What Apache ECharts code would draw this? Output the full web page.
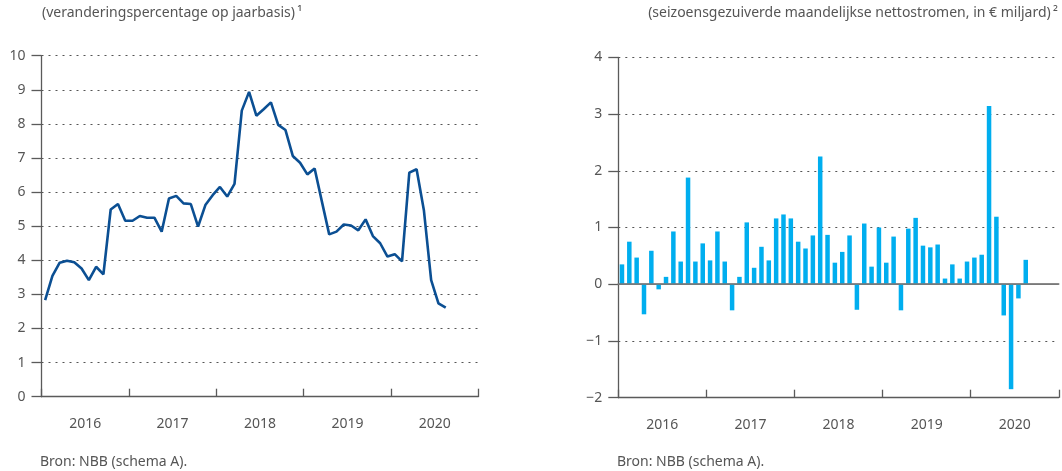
<!DOCTYPE html>
<html><head><meta charset="utf-8">
<script src="https://cdn.jsdelivr.net/npm/echarts@6/dist/echarts.min.js"></script>
<style>html,body{margin:0;padding:0;background:#fff}#c{width:1062px;height:471px}</style>
</head><body><div id="c"></div>
<script>
const years = ['2016', '2017', '2018', '2019', '2020'];
const months = [
  '2016-01','2016-02','2016-03','2016-04','2016-05','2016-06','2016-07','2016-08','2016-09','2016-10','2016-11','2016-12',
  '2017-01','2017-02','2017-03','2017-04','2017-05','2017-06','2017-07','2017-08','2017-09','2017-10','2017-11','2017-12',
  '2018-01','2018-02','2018-03','2018-04','2018-05','2018-06','2018-07','2018-08','2018-09','2018-10','2018-11','2018-12',
  '2019-01','2019-02','2019-03','2019-04','2019-05','2019-06','2019-07','2019-08','2019-09','2019-10','2019-11','2019-12',
  '2020-01','2020-02','2020-03','2020-04','2020-05','2020-06','2020-07','2020-08','2020-09','2020-10','2020-11','2020-12'
];
// left panel: year-on-year change (%)
const growthRate = [
  2.83, 3.54, 3.93, 3.99, 3.94, 3.76, 3.42, 3.81, 3.59, 5.49, 5.65, 5.16,
  5.16, 5.30, 5.25, 5.25, 4.84, 5.81, 5.89, 5.67, 5.65, 4.99, 5.62, 5.91,
  6.15, 5.87, 6.24, 8.39, 8.94, 8.24, 8.43, 8.63, 7.97, 7.82, 7.06, 6.86,
  6.52, 6.69, 5.72, 4.76, 4.84, 5.05, 5.02, 4.88, 5.20, 4.71, 4.50, 4.11,
  4.18, 3.97, 6.57, 6.67, 5.47, 3.42, 2.74, 2.61
];
// right panel: seasonally adjusted monthly net flows (EUR bn)
const netFlows = [
  0.35, 0.75, 0.47, -0.53, 0.59, -0.09, 0.13, 0.93, 0.40, 1.88, 0.40, 0.72,
  0.42, 0.93, 0.40, -0.46, 0.13, 1.09, 0.29, 0.66, 0.42, 1.16, 1.23, 1.16,
  0.75, 0.63, 0.86, 2.25, 0.87, 0.38, 0.57, 0.86, -0.45, 1.07, 0.31, 1.00,
  0.38, 0.84, -0.46, 0.98, 1.17, 0.68, 0.65, 0.70, 0.10, 0.35, 0.10, 0.40,
  0.47, 0.52, 3.14, 1.19, -0.55, -1.85, -0.25, 0.43
];
const leftSubtitle = '(veranderingspercentage op jaarbasis)\u2009¹';
const rightSubtitle = '(seizoensgezuiverde maandelijkse nettostromen, in € miljard)\u2009²';
const sourceText = 'Bron: NBB (schema A).';

const FONT = '"Noto Sans", "Open Sans", sans-serif';
const TXT = '#555';
const AX = '#5a5a5a';
const gridDots = { color: '#555', width: 1, type: [2, 5] };

function yearAxis(gridIndex) {
  return {
    type: 'category', gridIndex, data: years, position: 'bottom', boundaryGap: true,
    axisLine: { show: true, onZero: false, lineStyle: { color: AX, width: 1.3 } },
    axisTick: { show: true, inside: true, length: 8, interval: 0, lineStyle: { color: AX, width: 1.3 } },
    axisLabel: { show: true, interval: 0, margin: 20, color: TXT, fontSize: 14, fontFamily: FONT },
    splitLine: { show: false }
  };
}
function monthAxis(gridIndex, showZero) {
  return {
    type: 'category', gridIndex, data: months, position: 'bottom', boundaryGap: true,
    axisLine: { show: showZero, onZero: true, lineStyle: { color: '#7a7a7a', width: 1.6 } },
    axisTick: { show: false }, axisLabel: { show: false }, splitLine: { show: false }, z: 4
  };
}
function valAxis(gridIndex, min, max) {
  return {
    type: 'value', gridIndex, min, max, interval: 1,
    axisLine: { show: true, lineStyle: { color: AX, width: 1.3 } },
    axisTick: { show: true, length: 10, lineStyle: { color: AX, width: 1.3 } },
    axisLabel: { margin: 16, color: TXT, fontSize: 14, fontFamily: FONT,
      formatter: v => v < 0 ? '\u2212' + Math.abs(v) : String(v) },
    splitLine: { show: true, lineStyle: gridDots }
  };
}

const chart = echarts.init(document.getElementById('c'), null, { renderer: 'canvas' });
chart.setOption({
  animation: false,
  backgroundColor: '#fff',
  grid: [
    { left: 41.5, top: 55.7, width: 437, height: 341 },
    { left: 618.3, top: 57.3, width: 440.5, height: 340.4 }
  ],
  xAxis: [ yearAxis(0), monthAxis(0, false), yearAxis(1), monthAxis(1, true) ],
  yAxis: [ valAxis(0, 0, 10), valAxis(1, -2, 4) ],
  series: [
    { type: 'line', xAxisIndex: 1, yAxisIndex: 0, data: growthRate, symbol: 'none',
      lineStyle: { color: '#0b4f93', width: 2.6 }, z: 5 },
    { type: 'bar', xAxisIndex: 3, yAxisIndex: 1, data: netFlows, barWidth: 4.5,
      itemStyle: { color: '#00aeef' }, z: 3 }
  ],
  graphic: [
    { type: 'text', left: 42, top: 6, style: { text: leftSubtitle, fill: TXT, font: '14px ' + FONT } },
    { type: 'text', right: 4, top: 6, style: { text: rightSubtitle, fill: TXT, font: '14px ' + FONT } },
    { type: 'text', left: 40, top: 455, style: { text: sourceText, fill: TXT, font: '14px ' + FONT } },
    { type: 'text', left: 617, top: 455, style: { text: sourceText, fill: TXT, font: '14px ' + FONT } }
  ]
});
// solid zero line across the full right panel, positioned through the value axis scale
const y0 = chart.convertToPixel({ yAxisIndex: 1 }, 0);
const rect = chart.getModel().getComponent('grid', 1).coordinateSystem.getRect();
chart.setOption({ graphic: [
  { type: 'text', left: 42, top: 6, style: { text: leftSubtitle, fill: TXT, font: '14px ' + FONT } },
  { type: 'text', right: 4, top: 6, style: { text: rightSubtitle, fill: TXT, font: '14px ' + FONT } },
  { type: 'text', left: 40, top: 455, style: { text: sourceText, fill: TXT, font: '14px ' + FONT } },
  { type: 'text', left: 617, top: 455, style: { text: sourceText, fill: TXT, font: '14px ' + FONT } },
  { type: 'line', z: 2, shape: { x1: rect.x, y1: y0, x2: rect.x + rect.width, y2: y0 },
    style: { stroke: '#7a7a7a', lineWidth: 1.6 } }
] });
</script>
</body></html>
